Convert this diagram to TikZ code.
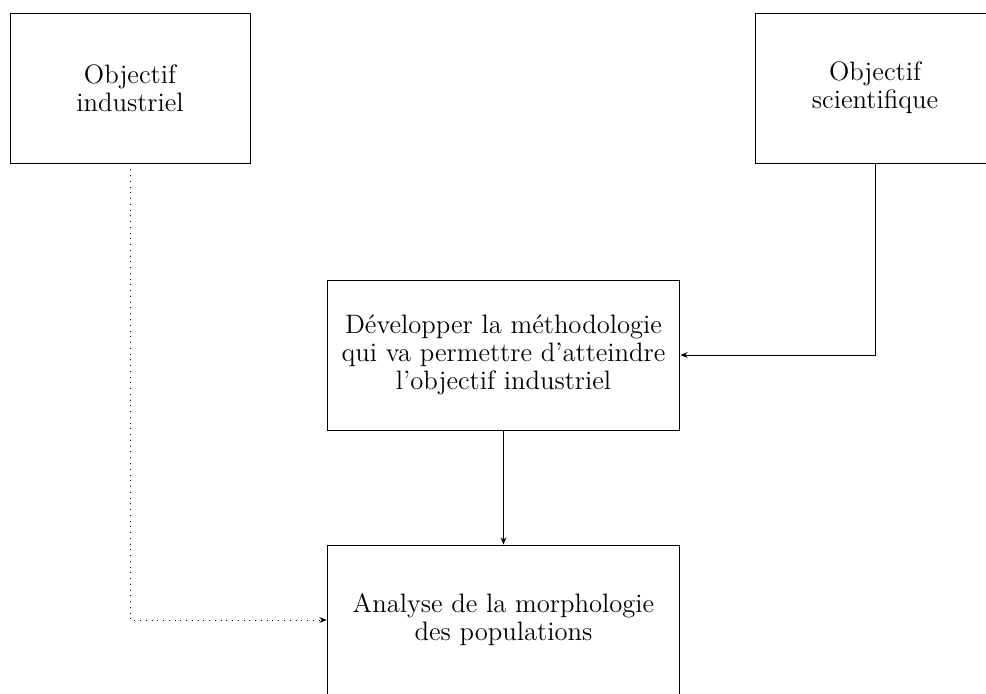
\documentclass[tikz,border=0pt]{standalone}
\usetikzlibrary{arrows.meta}
\begin{document}
\begin{tikzpicture}[x=0.4167pt, y=-0.4167pt,
  box/.style={draw, line width=0.4pt, align=center, inner sep=0pt, minimum height=62.5pt,
    font=\fontsize{11.1pt}{11.7pt}\selectfont},
  smallbox/.style={box, minimum width=100pt},
  widebox/.style={box, minimum width=147pt},
  conn/.style={line width=0.4pt, -{Stealth[length=3pt, width=2.4pt]}}]
\useasboundingbox (0,0) rectangle (986,693);
\node[smallbox] (ind) at (130,88) {Objectif\\industriel};
\node[smallbox] (sci) at (875,88) {Objectif\\scientifique};
\node[widebox] (dev) at (503.5,355) {Développer la méthodologie\\qui va permettre d’atteindre\\l’objectif industriel};
\node[widebox] (ana) at (503.5,620) {Analyse de la morphologie\\des populations};
\draw[conn] (sci.south) |- (dev.east);
\draw[conn] (dev.south) -- (ana.north);
\draw[conn, dotted] (ind.south) |- (ana.west);
\end{tikzpicture}
\end{document}
